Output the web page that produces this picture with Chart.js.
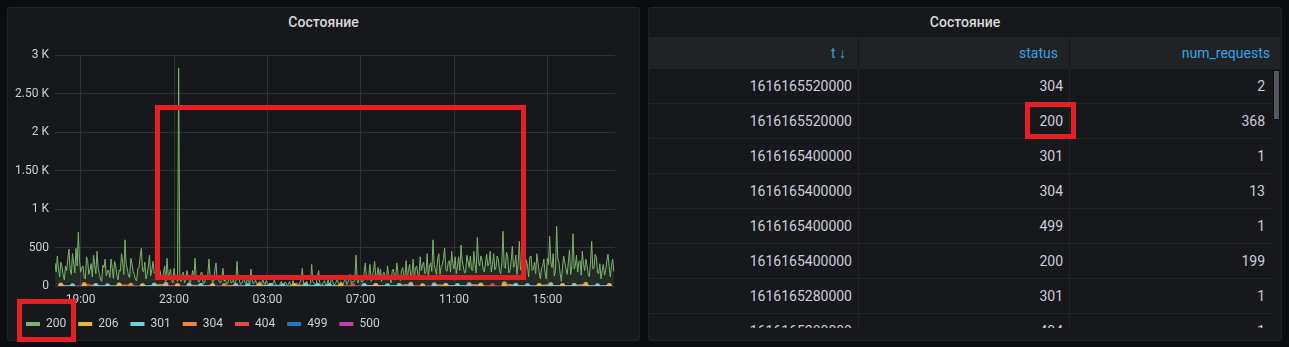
<!DOCTYPE html>
<html><head><meta charset="utf-8">
<script src="https://cdn.jsdelivr.net/npm/chart.js@4/dist/chart.umd.min.js"></script>
<style>
html,body{margin:0;padding:0;background:#0b0c0e;width:1289px;height:347px;overflow:hidden;font-family:Roboto,sans-serif;}
.panel{position:absolute;background:#17181c;border:1px solid #202226;border-radius:3px;box-sizing:border-box;}
.ptitle{position:absolute;left:0;right:0;top:0px;text-align:center;color:#d8d9da;font-size:14px;font-weight:500;line-height:28px;}
#wrap{position:absolute;left:7px;top:37px;width:632px;height:303px;}
.rb{position:absolute;border:5px solid #e51f26;box-sizing:border-box;}
#tbl{position:absolute;left:648px;top:37px;width:632px;}
.hdr{height:32px;background:#202226;display:flex;}
.hdr div{box-sizing:border-box;text-align:right;color:#33a2e5;font-size:14px;line-height:32px;border-right:1px solid #141619;}
.body{position:absolute;top:32px;left:0;width:632px;height:259px;overflow:hidden;}
.row{display:flex;height:35px;}
.row div{box-sizing:border-box;text-align:right;color:#ccccdc;font-size:14px;line-height:34px;border-bottom:1px solid #222428;border-right:1px solid #222428;}
.c1{width:211px;padding-right:6px;}
.c2{width:211px;padding-right:6px;}
.c3{width:203px;padding-right:8px;}
.sb{position:absolute;left:625px;top:1px;width:7px;height:50px;background:#55585f;border:1px solid #0b0c0e;box-sizing:border-box;}
</style></head>
<body>
<div class="panel" style="left:7px;top:7px;width:633px;height:334px;"><div class="ptitle">Состояние</div></div>
<div class="panel" style="left:648px;top:7px;width:634px;height:334px;"><div class="ptitle">Состояние</div></div>
<div id="wrap"><canvas id="c"></canvas></div>
<div id="tbl"></div>
<div class="rb" style="left:155px;top:105px;width:371px;height:175px;"></div>
<div class="rb" style="left:17px;top:299px;width:59px;height:43px;"></div>
<div class="rb" style="left:1025px;top:102px;width:51px;height:37px;"></div>
<script>
// ---- time axis (hours of day, continuing past midnight) ----
const startHour = 17.9;        // 17:54
const endHour = 41.9;          // 17:54 next day
const mainStepH = 0.05;        // 3 minutes
const minorStepH = 0.5;        // 30 minutes
const xTickHours = [19, 23, 27, 31, 35, 39];
const yTicks = [0, 500, 1000, 1500, 2000, 2500, 3000];
const yTickLabels = ["0", "500", "1 K", "1.50 K", "2 K", "2.50 K", "3 K"];

const seriesNames = ["200", "206", "301", "304", "404", "499", "500"];
const seriesColors = ["#7eb26d", "#eab839", "#6ed0e0", "#ef843c", "#e24d42", "#1f78c1", "#ba43a9"];

// status 200 (requests per 3 min)
const s200 = [
  300,180,390,220,120,310,250,140,80,260,200,350,480,210,150,420,300,170,490,260,700,330,180,240,260,110,90,380,330,150,
  210,290,120,400,280,160,450,230,160,90,60,270,240,350,130,200,200,110,350,240,100,320,270,140,80,210,190,420,310,150,
  600,280,220,130,110,360,290,190,150,80,70,230,240,380,490,200,180,310,90,150,260,400,130,210,320,170,180,260,100,230,
  200,90,120,170,260,60,360,140,150,220,80,40,230,120,110,60,2830,90,60,150,180,40,90,200,140,70,40,110,200,80,
  360,130,120,50,60,170,180,30,40,90,90,150,350,110,130,40,60,200,300,90,80,50,40,120,230,60,90,30,30,100,
  120,40,50,80,20,60,320,110,80,20,30,70,110,40,40,90,60,20,220,80,30,50,80,20,20,60,50,10,90,40,20,70,40,10,
  30,5,10,40,80,15,20,0,5,30,60,10,15,50,40,5,20,60,10,0,70,20,15,40,30,10,50,90,230,20,
  20,50,60,5,10,30,280,60,40,10,30,120,200,40,20,10,50,70,10,20,80,30,30,110,60,20,20,50,90,30,
  10,60,40,20,70,100,20,40,100,150,30,60,50,90,400,70,40,130,90,50,60,180,300,90,80,150,280,60,120,200,320,110,150,240,
  120,220,60,150,180,80,90,260,150,110,40,190,220,130,110,300,170,90,70,200,240,140,130,330,90,210,280,120,160,350,
  100,240,260,150,140,380,200,270,310,160,170,420,120,260,300,190,600,280,210,150,350,420,150,250,280,360,490,220,190,300,
  330,180,450,290,220,380,160,260,380,200,530,330,250,170,180,400,320,240,390,210,200,450,280,170,630,310,260,390,340,220,180,300,410,260,
  300,450,180,280,420,210,250,390,350,200,160,300,710,250,230,440,380,170,200,330,515,240,280,400,150,290,580,210,300,450,
  200,120,340,260,120,380,390,200,220,310,160,420,300,180,90,240,250,350,180,90,360,280,645,310,240,420,130,200,775,350,
  300,160,60,250,390,300,220,150,310,470,150,260,680,220,260,400,180,310,330,140,450,280,200,350,270,160,120,300,580,220,
  240,410,375,180,160,290,90,200,280,140,200,330,410,250,120,270,350,190
];
// minor statuses (requests per 30 min)
const s206 = [1,null,1,null,null,1,null,1,null,null,1,null,null,1,null,null,null,1,null,null,1,null,null,null,1,null,null,1,null,null,null,1,null,1,null,null,1,null,1,null,null,1,null,1,null,1,null,1];
const s301 = [2,1,null,3,1,2,null,1,4,1,null,2,1,3,null,1,2,1,5,2,1,3,6,2,1,null,2,4,1,3,2,null,1,2,3,1,2,null,1,3,2,1,4,2,1,3,1,2];
const s304 = [13,null,20,5,null,16,9,null,14,22,null,12,6,null,3,8,null,12,9,null,7,15,null,3,10,null,8,5,null,7,24,null,16,11,null,20,13,null,30,10,null,7,18,null,9,22,null,2];
const s404 = [3,1,null,2,null,5,1,null,3,1,6,null,1,3,null,1,null,4,2,null,3,2,5,null,2,3,null,2,4,null,1,3,null,1,5,null,3,1,null,4,1,null,2,6,null,2,3,1];
const s499 = [1,1,null,1,1,null,1,1,1,null,1,1,null,1,1,1,null,1,1,null,1,1,1,null,1,1,null,1,1,1,null,1,1,null,1,1,1,null,1,1,null,1,1,1,null,1,1,1];
const s500 = [2,1,3,1,2,1,1,4,2,1,3,1,2,1,1,2,3,1,2,1,1,3,2,1,2,1,4,1,2,1,3,1,2,2,1,3,1,2,1,1,2,3,1,2,1,2,1,3];

// table
const tableHeaders = ["t \u2193", "status", "num_requests"];
const tableT = ["1616165520000","1616165520000","1616165400000","1616165400000","1616165400000","1616165400000","1616165280000","1616165280000"];
const tableStatus = ["304","200","301","304","499","200","301","404"];
const tableNum = ["2","368","1","13","1","199","1","1"];

// ---- build table ----
(function(){
  const t = document.getElementById('tbl');
  let h = '<div class="hdr"><div style="width:211px;padding-right:12px">'+tableHeaders[0]+'</div><div style="width:211px;padding-right:11px">'+tableHeaders[1]+'</div><div style="width:210px;padding-right:10px;border-right:none">'+tableHeaders[2]+'</div></div><div class="body">';
  for (let i=0;i<tableT.length;i++){
    h += '<div class="row"><div class="c1">'+tableT[i]+'</div><div class="c2">'+tableStatus[i]+'</div><div class="c3" style="border-right:none">'+tableNum[i]+'</div></div>';
  }
  h += '<div class="sb"></div></div>';
  t.innerHTML = h;
})();

// ---- chart ----
const mainData = s200.map((v,i)=>({x:startHour + i*mainStepH, y:v}));
const minorArrays = [s206, s301, s304, s404, s499, s500];
const minorData = minorArrays.map(arr => arr.map((v,j)=>({x:startHour + minorStepH/2 + j*minorStepH, y:v})));

const datasets = [{
  label: seriesNames[0], data: mainData, borderColor: seriesColors[0],
  backgroundColor: 'rgba(126,178,109,0.12)', fill: 'origin', borderWidth: 1,
  pointRadius: 0, tension: 0, order: 1
}];
minorData.forEach((d,k)=>{
  datasets.push({label: seriesNames[k+1], data: d, borderColor: seriesColors[k+1], backgroundColor: seriesColors[k+1],
    borderWidth: 1, pointRadius: 2.5, pointBorderWidth: 0, spanGaps: false, fill: false, tension: 0, order: 0});
});

const pad2 = n => (n<10?'0':'')+n;
Chart.defaults.font.family = 'Roboto, sans-serif';
Chart.defaults.font.size = 12;
Chart.defaults.color = '#c7d0d9';

new Chart(document.getElementById('c'), {
  type: 'line',
  data: { datasets },
  options: {
    animation: false, responsive: true, maintainAspectRatio: false,
    layout: { padding: { left: 7, right: 24, top: 18, bottom: 0 } },
    plugins: {
      tooltip: { enabled: false },
      legend: {
        position: 'bottom', align: 'start',
        labels: { boxWidth: 14, boxHeight: 4, padding: 12, color: '#c7d0d9', font: { size: 12 },
          sort: (a,b)=>a.datasetIndex-b.datasetIndex,
          generateLabels: (chart) => chart.data.datasets.map((ds,i)=>({
            text: ds.label, fillStyle: ds.borderColor, strokeStyle: ds.borderColor, lineWidth: 0,
            hidden: false, datasetIndex: i, fontColor: '#c7d0d9'
          }))
        }
      }
    },
    scales: {
      x: {
        type: 'linear', min: startHour, max: endHour,
        afterBuildTicks: s => { s.ticks = xTickHours.map(v=>({value:v})); },
        afterFit: s => { s.height = 20; },
        ticks: { callback: v => pad2(Math.round(v)%24)+':00', padding: 7, maxRotation: 0, autoSkip: false, color: '#c7d0d9' },
        grid: { color: '#303236', drawTicks: false },
        border: { display: false }
      },
      y: {
        min: 0, max: 3000,
        afterBuildTicks: s => { s.ticks = yTicks.map(v=>({value:v})); },
        afterFit: s => { s.width = 41; },
        ticks: { callback: v => yTickLabels[yTicks.indexOf(v)], padding: 6, color: '#c7d0d9' },
        grid: { color: '#303236', drawTicks: false },
        border: { display: false }
      }
    }
  }
});
</script>
</body></html>
